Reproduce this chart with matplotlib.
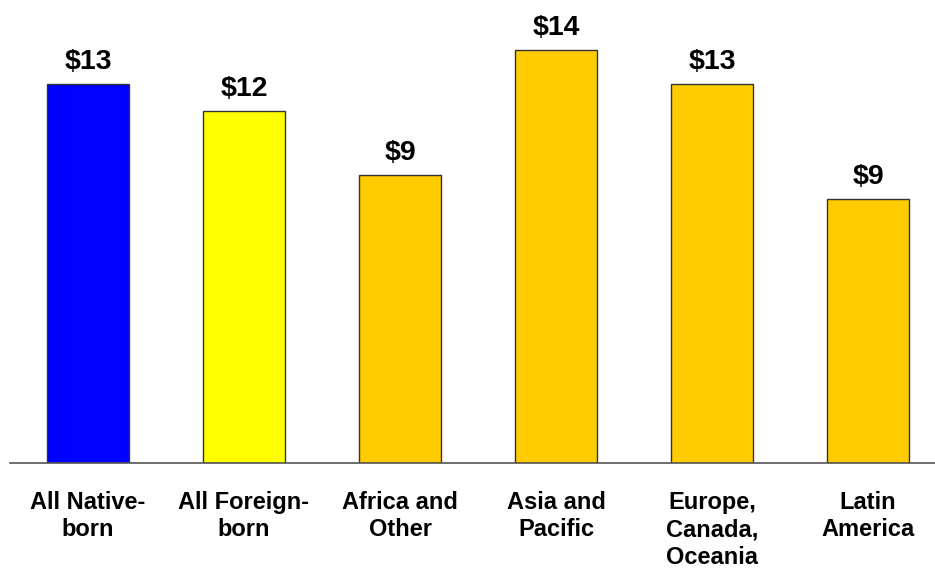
import matplotlib
matplotlib.use("Agg")
import matplotlib.pyplot as plt

categories = ["All Native-\nborn", "All Foreign-\nborn", "Africa and\nOther",
              "Asia and\nPacific", "Europe,\nCanada,\nOceania", "Latin\nAmerica"]
values = [12.5, 11.6, 9.5, 13.6, 12.5, 8.7]
value_labels = ["$13", "$12", "$9", "$14", "$13", "$9"]
bar_colors = ["#0000FF", "#FFFF00", "#FFCC00", "#FFCC00", "#FFCC00", "#FFCC00"]

plt.rcParams['font.family'] = ['Liberation Sans', 'DejaVu Sans']

fig = plt.figure(figsize=(9.35, 5.74), dpi=100)
# axes runs a touch past the right edge, like the original slide
ax = fig.add_axes([10 / 935, 111 / 574, 936 / 935, 453 / 574])

x = range(len(categories))
bars = ax.bar(x, values, width=0.526, color=bar_colors, edgecolor="#333333", linewidth=1)

for rect, lab in zip(bars, value_labels):
    ax.annotate(lab, (rect.get_x() + rect.get_width() / 2, rect.get_height()),
                xytext=(0, 6.5), textcoords="offset points", ha="center", va="bottom",
                fontsize=20.5, fontweight="bold")

ax.set_xlim(-0.5, len(categories) - 0.5)
ax.set_ylim(0, 14.93)
ax.set_xticks(list(x))
ax.set_xticklabels(categories, fontsize=17, fontweight="bold", linespacing=1.25, va="top")
ax.tick_params(axis="x", length=0, pad=20)
ax.set_yticks([])

for s in ["top", "right", "left"]:
    ax.spines[s].set_visible(False)
ax.spines["bottom"].set_color("#555555")
ax.spines["bottom"].set_linewidth(1.2)

fig.savefig("out.png", dpi=100)
